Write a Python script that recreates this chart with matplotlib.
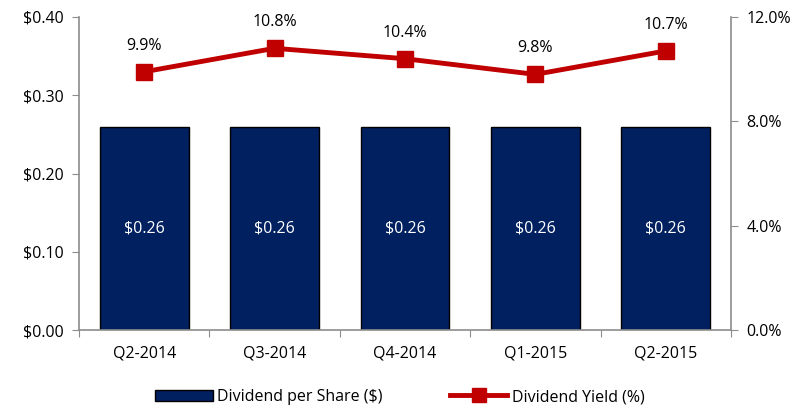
import matplotlib
matplotlib.use("Agg")
import matplotlib.pyplot as plt
from matplotlib.lines import Line2D
from matplotlib.patches import Patch

categories = ["Q2-2014", "Q3-2014", "Q4-2014", "Q1-2015", "Q2-2015"]
dividend = [0.26, 0.26, 0.26, 0.26, 0.26]
yield_pct = [9.9, 10.8, 10.4, 9.8, 10.7]

plt.rcParams['font.family'] = ['Open Sans', 'DejaVu Sans']
fs = 11.5

fig = plt.figure(figsize=(8, 4.08), dpi=100)
ax = fig.add_axes([79/800, 1-330/408, (731-79)/800, (330-17)/408])
x = list(range(len(categories)))
navy = "#002060"
red = "#C00000"
grey = "#8C8C8C"

ax.bar(x, dividend, width=0.68, color=navy, edgecolor="black", linewidth=1.0, zorder=2)
for xi, v in zip(x, dividend):
    ax.text(xi, v/2, f"${v:.2f}", ha="center", va="center", color="white", fontsize=fs)

ax.set_xlim(-0.5, len(categories)-0.5)
ax.set_ylim(0, 0.40)
ax.set_yticks([0, 0.1, 0.2, 0.3, 0.4])
ax.set_yticklabels([f"${t:.2f}" for t in [0, 0.1, 0.2, 0.3, 0.4]], fontsize=fs)
ax.set_xticks([i - 0.5 for i in range(len(categories)+1)], minor=False)
ax.set_xticklabels([])
ax.set_xticks(x, minor=True)
ax.set_xticklabels(categories, minor=True, fontsize=fs)
ax.tick_params(axis="x", which="minor", length=0, pad=11)
ax.tick_params(axis="x", which="major", length=5, color=grey, direction="out")
ax.tick_params(axis="y", length=5, color=grey, direction="out", pad=6)
for s in ["top", "right"]:
    ax.spines[s].set_visible(False)
for s in ["left", "bottom"]:
    ax.spines[s].set_color(grey)
    ax.spines[s].set_linewidth(1.2)

ax2 = ax.twinx()
ax2.plot(x, yield_pct, color=red, linewidth=3.5, marker="s", markersize=12, zorder=3)
for xi, v in zip(x, yield_pct):
    ax2.annotate(f"{v:.1f}%", (xi, v), xytext=(0, 13), textcoords="offset points",
                 ha="center", va="bottom", fontsize=fs)
ax2.set_ylim(0, 12)
ax2.set_yticks([0, 4, 8, 12])
ax2.set_yticklabels([f"{t:.1f}%" for t in [0, 4, 8, 12]], fontsize=fs)
ax2.tick_params(axis="y", length=5, color=grey, direction="out", pad=6)
for s in ["top", "left", "bottom"]:
    ax2.spines[s].set_visible(False)
ax2.spines["right"].set_color(grey)
ax2.spines["right"].set_linewidth(1.2)

handles = [Patch(facecolor=navy, edgecolor="black", label="Dividend per Share ($)"),
           Line2D([0], [0], color=red, linewidth=3.5, marker="s", markersize=10, label="Dividend Yield (%)")]
fig.legend(handles=handles, loc="center", bbox_to_anchor=(0.5, 1-397/408), ncol=2,
           frameon=False, fontsize=fs, handlelength=3.6, handletextpad=0.3, columnspacing=4.2)

fig.savefig("out.png", dpi=100)
